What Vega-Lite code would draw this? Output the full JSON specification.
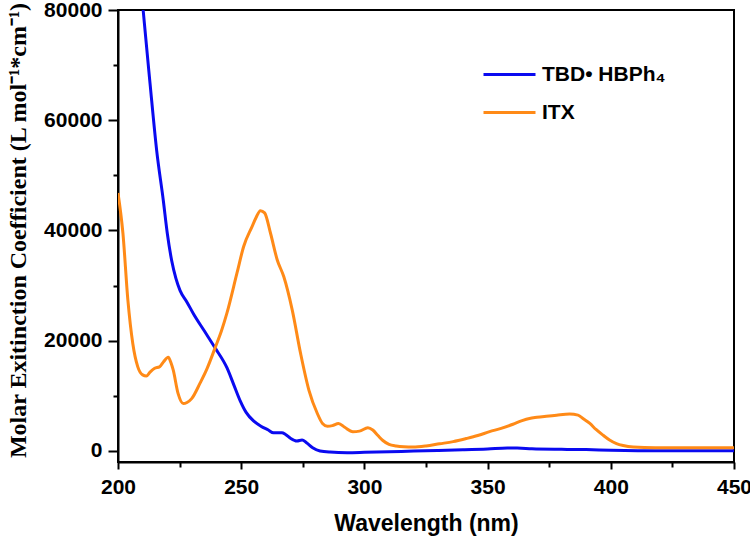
{
  "$schema": "https://vega.github.io/schema/vega-lite/v6.json",
  "width": 616,
  "height": 452,
  "autosize": {"type": "none"},
  "padding": {"left": 118, "top": 10, "right": 16, "bottom": 78},
  "background": "white",
  "config": {
    "view": {"stroke": "black", "strokeWidth": 2},
    "axis": {
      "grid": false,
      "domainColor": "black",
      "domainWidth": 2,
      "tickColor": "black",
      "tickWidth": 2,
      "labelColor": "black",
      "labelFont": "Liberation Sans",
      "labelFontWeight": "bold",
      "labelFontSize": 21,
      "labelOverlap": false,
      "titleColor": "black",
      "titleFontWeight": "bold"
    }
  },
  "data": {
    "values": [
      {"series": "TBD• HBPh₄", "wavelength": 205, "value": 110000},
      {"series": "TBD• HBPh₄", "wavelength": 208, "value": 92000},
      {"series": "TBD• HBPh₄", "wavelength": 210.2, "value": 80000},
      {"series": "TBD• HBPh₄", "wavelength": 213, "value": 66700},
      {"series": "TBD• HBPh₄", "wavelength": 215.7, "value": 54500},
      {"series": "TBD• HBPh₄", "wavelength": 218.4, "value": 45400},
      {"series": "TBD• HBPh₄", "wavelength": 220, "value": 39500},
      {"series": "TBD• HBPh₄", "wavelength": 221.8, "value": 34500},
      {"series": "TBD• HBPh₄", "wavelength": 223.5, "value": 31300},
      {"series": "TBD• HBPh₄", "wavelength": 225.2, "value": 29100},
      {"series": "TBD• HBPh₄", "wavelength": 228, "value": 27000},
      {"series": "TBD• HBPh₄", "wavelength": 230.6, "value": 24900},
      {"series": "TBD• HBPh₄", "wavelength": 235, "value": 21800},
      {"series": "TBD• HBPh₄", "wavelength": 239.4, "value": 18700},
      {"series": "TBD• HBPh₄", "wavelength": 244.2, "value": 15100},
      {"series": "TBD• HBPh₄", "wavelength": 247, "value": 12000},
      {"series": "TBD• HBPh₄", "wavelength": 249.6, "value": 9100},
      {"series": "TBD• HBPh₄", "wavelength": 252, "value": 7000},
      {"series": "TBD• HBPh₄", "wavelength": 255, "value": 5450},
      {"series": "TBD• HBPh₄", "wavelength": 258, "value": 4500},
      {"series": "TBD• HBPh₄", "wavelength": 261, "value": 3800},
      {"series": "TBD• HBPh₄", "wavelength": 263.1, "value": 3300},
      {"series": "TBD• HBPh₄", "wavelength": 266.5, "value": 3300},
      {"series": "TBD• HBPh₄", "wavelength": 268, "value": 3000},
      {"series": "TBD• HBPh₄", "wavelength": 270, "value": 2300},
      {"series": "TBD• HBPh₄", "wavelength": 272.6, "value": 1800},
      {"series": "TBD• HBPh₄", "wavelength": 274.7, "value": 2000},
      {"series": "TBD• HBPh₄", "wavelength": 276.5, "value": 1500},
      {"series": "TBD• HBPh₄", "wavelength": 279, "value": 600},
      {"series": "TBD• HBPh₄", "wavelength": 282, "value": 0},
      {"series": "TBD• HBPh₄", "wavelength": 286, "value": -200},
      {"series": "TBD• HBPh₄", "wavelength": 293, "value": -300},
      {"series": "TBD• HBPh₄", "wavelength": 300, "value": -250},
      {"series": "TBD• HBPh₄", "wavelength": 310, "value": -150},
      {"series": "TBD• HBPh₄", "wavelength": 320, "value": 0},
      {"series": "TBD• HBPh₄", "wavelength": 330, "value": 100},
      {"series": "TBD• HBPh₄", "wavelength": 340, "value": 200},
      {"series": "TBD• HBPh₄", "wavelength": 350, "value": 350},
      {"series": "TBD• HBPh₄", "wavelength": 358, "value": 550},
      {"series": "TBD• HBPh₄", "wavelength": 362, "value": 550},
      {"series": "TBD• HBPh₄", "wavelength": 368, "value": 400},
      {"series": "TBD• HBPh₄", "wavelength": 380, "value": 300},
      {"series": "TBD• HBPh₄", "wavelength": 390, "value": 250},
      {"series": "TBD• HBPh₄", "wavelength": 400, "value": 150},
      {"series": "TBD• HBPh₄", "wavelength": 420, "value": 50},
      {"series": "TBD• HBPh₄", "wavelength": 450, "value": 50},
      {"series": "ITX", "wavelength": 200, "value": 46800},
      {"series": "ITX", "wavelength": 202, "value": 39500},
      {"series": "ITX", "wavelength": 204, "value": 27400},
      {"series": "ITX", "wavelength": 206, "value": 19500},
      {"series": "ITX", "wavelength": 208, "value": 15300},
      {"series": "ITX", "wavelength": 210, "value": 13800},
      {"series": "ITX", "wavelength": 211.5, "value": 13600},
      {"series": "ITX", "wavelength": 213, "value": 14300},
      {"series": "ITX", "wavelength": 214.9, "value": 15000},
      {"series": "ITX", "wavelength": 216.9, "value": 15300},
      {"series": "ITX", "wavelength": 218.5, "value": 16200},
      {"series": "ITX", "wavelength": 220.4, "value": 17000},
      {"series": "ITX", "wavelength": 221.5, "value": 16000},
      {"series": "ITX", "wavelength": 222.4, "value": 14700},
      {"series": "ITX", "wavelength": 224.4, "value": 10400},
      {"series": "ITX", "wavelength": 226.5, "value": 8600},
      {"series": "ITX", "wavelength": 228, "value": 8800},
      {"series": "ITX", "wavelength": 229.9, "value": 9500},
      {"series": "ITX", "wavelength": 233.3, "value": 12300},
      {"series": "ITX", "wavelength": 236, "value": 14800},
      {"series": "ITX", "wavelength": 239.4, "value": 18700},
      {"series": "ITX", "wavelength": 242, "value": 21800},
      {"series": "ITX", "wavelength": 244.2, "value": 25000},
      {"series": "ITX", "wavelength": 248.3, "value": 32300},
      {"series": "ITX", "wavelength": 251, "value": 37100},
      {"series": "ITX", "wavelength": 254.4, "value": 40700},
      {"series": "ITX", "wavelength": 256, "value": 42300},
      {"series": "ITX", "wavelength": 257.8, "value": 43600},
      {"series": "ITX", "wavelength": 259.5, "value": 43200},
      {"series": "ITX", "wavelength": 261.9, "value": 39500},
      {"series": "ITX", "wavelength": 264.6, "value": 34700},
      {"series": "ITX", "wavelength": 267.3, "value": 31600},
      {"series": "ITX", "wavelength": 270.7, "value": 25600},
      {"series": "ITX", "wavelength": 274.1, "value": 17700},
      {"series": "ITX", "wavelength": 277.5, "value": 11000},
      {"series": "ITX", "wavelength": 280.9, "value": 6800},
      {"series": "ITX", "wavelength": 283, "value": 5000},
      {"series": "ITX", "wavelength": 285, "value": 4500},
      {"series": "ITX", "wavelength": 287, "value": 4600},
      {"series": "ITX", "wavelength": 289.5, "value": 5000},
      {"series": "ITX", "wavelength": 292, "value": 4300},
      {"series": "ITX", "wavelength": 295.3, "value": 3500},
      {"series": "ITX", "wavelength": 298, "value": 3600},
      {"series": "ITX", "wavelength": 301.4, "value": 4200},
      {"series": "ITX", "wavelength": 303.4, "value": 3800},
      {"series": "ITX", "wavelength": 305.5, "value": 2800},
      {"series": "ITX", "wavelength": 307.5, "value": 1900},
      {"series": "ITX", "wavelength": 310, "value": 1200},
      {"series": "ITX", "wavelength": 312.9, "value": 900},
      {"series": "ITX", "wavelength": 316, "value": 750},
      {"series": "ITX", "wavelength": 319.7, "value": 700},
      {"series": "ITX", "wavelength": 325, "value": 900},
      {"series": "ITX", "wavelength": 330.5, "value": 1300},
      {"series": "ITX", "wavelength": 336, "value": 1700},
      {"series": "ITX", "wavelength": 341.3, "value": 2250},
      {"series": "ITX", "wavelength": 346, "value": 2800},
      {"series": "ITX", "wavelength": 350.8, "value": 3500},
      {"series": "ITX", "wavelength": 355.5, "value": 4100},
      {"series": "ITX", "wavelength": 360.3, "value": 4850},
      {"series": "ITX", "wavelength": 364, "value": 5500},
      {"series": "ITX", "wavelength": 367, "value": 5900},
      {"series": "ITX", "wavelength": 370, "value": 6100},
      {"series": "ITX", "wavelength": 373.8, "value": 6300},
      {"series": "ITX", "wavelength": 378, "value": 6500},
      {"series": "ITX", "wavelength": 383.3, "value": 6700},
      {"series": "ITX", "wavelength": 386.7, "value": 6500},
      {"series": "ITX", "wavelength": 389, "value": 5800},
      {"series": "ITX", "wavelength": 391.5, "value": 5000},
      {"series": "ITX", "wavelength": 394, "value": 3900},
      {"series": "ITX", "wavelength": 396.9, "value": 2850},
      {"series": "ITX", "wavelength": 399.5, "value": 2000},
      {"series": "ITX", "wavelength": 402.3, "value": 1350},
      {"series": "ITX", "wavelength": 405, "value": 1000},
      {"series": "ITX", "wavelength": 409.1, "value": 730},
      {"series": "ITX", "wavelength": 418, "value": 600},
      {"series": "ITX", "wavelength": 430, "value": 600},
      {"series": "ITX", "wavelength": 450, "value": 600}
    ]
  },
  "mark": {"type": "line", "strokeWidth": 3, "clip": true, "interpolate": "monotone"},
  "encoding": {
    "x": {
      "field": "wavelength",
      "type": "quantitative",
      "scale": {"domain": [200, 450], "nice": false, "zero": false},
      "axis": {
        "values": [200, 225, 250, 275, 300, 325, 350, 375, 400, 425, 450],
        "labelExpr": "datum.value % 50 === 0 ? datum.label : ''",
        "tickSize": {"condition": {"test": "datum.value % 50 === 0", "value": 7}, "value": 5},
        "labelFlush": false,
        "labelPadding": 7,
        "title": "Wavelength (nm)",
        "titleFont": "Liberation Sans",
        "titleFontSize": 23,
        "titlePadding": 15
      }
    },
    "y": {
      "field": "value",
      "type": "quantitative",
      "scale": {"domain": [-2000, 80000], "nice": false, "zero": false},
      "axis": {
        "values": [0, 10000, 20000, 30000, 40000, 50000, 60000, 70000, 80000],
        "format": "d",
        "labelExpr": "datum.value % 20000 === 0 ? datum.label : ''",
        "tickSize": {"condition": {"test": "datum.value % 20000 === 0", "value": 10}, "value": 5},
        "labelPadding": 6,
        "title": "Molar Exitinction Coefficient (L mol⁻¹*cm⁻¹)",
        "titleFont": "Liberation Serif",
        "titleFontSize": 24,
        "titleX": -100,
        "titleY": 220,
        "titleBaseline": "middle"
      }
    },
    "color": {
      "field": "series",
      "type": "nominal",
      "scale": {"domain": ["TBD• HBPh₄", "ITX"], "range": ["#0A0AF0", "#FF8A17"]},
      "legend": {
        "title": null,
        "orient": "none",
        "legendX": 364,
        "legendY": 37,
        "symbolType": "stroke",
        "symbolSize": 2704,
        "symbolStrokeWidth": 3,
        "labelFont": "Liberation Sans",
        "labelFontWeight": "bold",
        "labelFontSize": 21,
        "labelColor": "black",
        "labelOffset": 5,
        "padding": 0,
        "rowPadding": -3
      }
    }
  }
}
